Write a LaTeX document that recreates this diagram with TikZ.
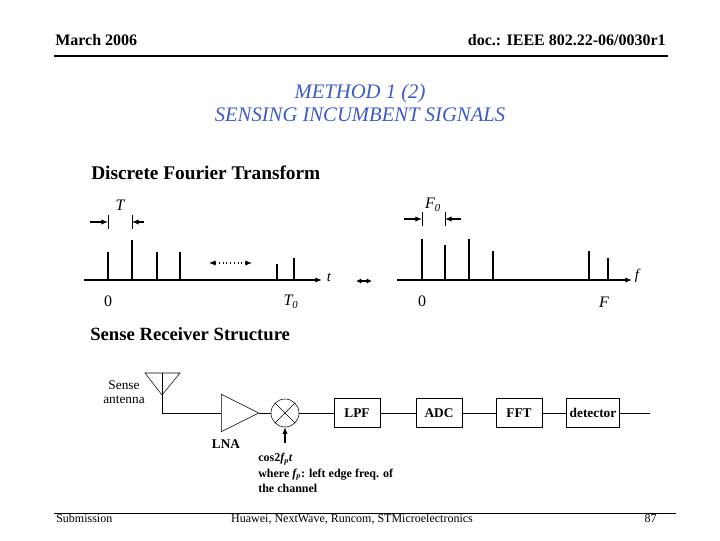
\documentclass[tikz,border=0pt]{standalone}
\usepackage{fontspec}
\setmainfont{Liberation Serif}
\usetikzlibrary{arrows.meta,shapes.geometric}
\definecolor{ttl}{RGB}{60,90,200}
\begin{document}
\begin{tikzpicture}[x=0.75pt,y=-0.75pt,
  lbl/.style={inner sep=0pt,font=\fontsize{11}{12}\selectfont},
  sbox/.style={draw,semithick,minimum width=34.5pt,minimum height=22pt,inner sep=0pt,font=\bfseries\fontsize{10}{11}\selectfont},
  spk/.style={thick},
  ar/.style={-{Latex[length=5pt,width=4pt]},thick},
  conn/.style={semithick}]
\useasboundingbox (0,0) rectangle (720,540);
% header
\node[anchor=base west,inner sep=0pt,font=\bfseries\fontsize{12}{14}\selectfont] (hl) at (55,45) {March 2006};
\node[anchor=base east,inner sep=0pt,font=\bfseries\fontsize{12}{14}\selectfont] (hr) at (666,45) {doc.: IEEE 802.22-06/0030r1};
\coordinate (h1) at (54,56); \coordinate (h2) at (668,56);
\draw[thick] (h1) -- (h2);
\node[text=ttl,font=\itshape\fontsize{15.5}{18}\selectfont,align=center] (title) at (360,103) {METHOD 1 (2)\\[-1pt]SENSING INCUMBENT SIGNALS};
\node[anchor=base west,inner sep=0pt,font=\bfseries\fontsize{14.5}{16}\selectfont] (dft) at (91,179) {Discrete Fourier Transform};
% left axis
\coordinate (la0) at (84,280); \coordinate (la1) at (322,280);
\draw[ar,very thick] (la0) -- (la1);
\node[lbl,font=\itshape\fontsize{11}{12}\selectfont] (t) at (329,277) {t};
\foreach \x/\h [count=\i] in {108/252,132/240,157/252,180/252,277/264,294/258}{
  \coordinate (ls\i) at (\x,280); \coordinate (lt\i) at (\x,\h); \draw[spk] (ls\i) -- (lt\i);}
\node[lbl,font=\fontsize{12}{13}\selectfont] (z1) at (108,301) {0};
\node[lbl,font=\itshape\fontsize{12}{13}\selectfont] (T0) at (291,302) {T\textsubscript{0}};
\coordinate (ta) at (108,215); \coordinate (tb) at (108,229); \draw (ta) -- (tb);
\coordinate (tc) at (132,215); \coordinate (td) at (132,229); \draw (tc) -- (td);
\coordinate (a1) at (90,222); \coordinate (a2) at (108,222); \draw[ar] (a1) -- (a2);
\coordinate (a3) at (144,222); \coordinate (a4) at (132,222); \draw[ar] (a3) -- (a4);
\node[lbl,font=\itshape\fontsize{12}{13}\selectfont] (T) at (120,205) {T};
\coordinate (d1) at (209,263); \coordinate (d2) at (252,263);
\draw[{Latex[length=5pt,width=4pt]}-{Latex[length=5pt,width=4pt]},thick,dotted] (d1) -- (d2);
\coordinate (m1) at (356,281); \coordinate (m2) at (372,281);
\draw[{Latex[length=4pt,width=4pt]}-{Latex[length=4pt,width=4pt]},thick] (m1) -- (m2);
% right axis
\coordinate (ra0) at (397,280); \coordinate (ra1) at (632,280);
\draw[ar,very thick] (ra0) -- (ra1);
\node[lbl,font=\itshape\fontsize{11}{12}\selectfont] (f) at (637,276) {f};
\foreach \x/\h [count=\i] in {422/239,445/245,469/239,493/251,589/251,608/258}{
  \coordinate (rs\i) at (\x,280); \coordinate (rt\i) at (\x,\h); \draw[spk] (rs\i) -- (rt\i);}
\node[lbl,font=\fontsize{12}{13}\selectfont] (z2) at (422,301) {0};
\node[lbl,font=\itshape\fontsize{12}{13}\selectfont] (F) at (604,302) {F};
\coordinate (fa) at (422,212); \coordinate (fb) at (422,226); \draw (fa) -- (fb);
\coordinate (fc) at (445,212); \coordinate (fd) at (445,226); \draw (fc) -- (fd);
\coordinate (b1) at (404,219); \coordinate (b2) at (422,219); \draw[ar] (b1) -- (b2);
\coordinate (b3) at (461,219); \coordinate (b4) at (445,219); \draw[ar] (b3) -- (b4);
\node[lbl,font=\itshape\fontsize{12}{13}\selectfont] (F0) at (433,205) {F\textsubscript{0}};
% receiver
\node[anchor=base west,inner sep=0pt,font=\bfseries\fontsize{14}{16}\selectfont] (srs) at (90,340) {Sense Receiver Structure};
\coordinate (an1) at (145,373); \coordinate (an2) at (180,373); \coordinate (ap) at (162,395);
\draw (an1) -- (ap) -- (an2) -- cycle; \coordinate (anm) at (162,373); \draw (anm) -- (ap);
\node[lbl,align=center,font=\fontsize{10}{11}\selectfont] (sa) at (124,392) {Sense\\antenna};
\coordinate (ac) at (162,413);
\node[draw,isosceles triangle,isosceles triangle stretches,minimum width=28pt,minimum height=28pt,inner sep=0pt] (lna) at (233,413) {};
\draw[conn] (ap) -- (ac) -- (lna.west);
\node[lbl,font=\bfseries\fontsize{10}{11}\selectfont] (lnal) at (226,444) {LNA};
\node[draw,circle,minimum size=21pt,inner sep=0pt] (mix) at (285,413) {};
\draw (mix.north west) -- (mix.south east) (mix.north east) -- (mix.south west);
\draw[conn] (lna.east) -- (mix.west);
\node[sbox] (lpf) at (357,413) {LPF};
\node[sbox] (adc) at (439,413) {ADC};
\node[sbox] (fft) at (519,413) {FFT};
\node[sbox,minimum width=40pt] (det) at (593,413) {detector};
\coordinate (out) at (650,413);
\draw[conn] (mix.east) -- (lpf) (lpf) -- (adc) (adc) -- (fft) (fft) -- (det) (det) -- (out);
\coordinate (lo) at (285,443);
\draw[ar] (lo) -- (mix.south);
\node[anchor=north west,align=left,inner sep=0pt,font=\bfseries\fontsize{9}{11.5}\selectfont] (note) at (258,453)
 {cos2\textit{f\textsubscript{p}t}\\where \textit{f\textsubscript{p}}: left edge freq. of\\the channel};
% footer
\coordinate (f1) at (54,513); \coordinate (f2) at (676,513);
\draw (f1) -- (f2);
\node[anchor=base west,inner sep=0pt,font=\fontsize{9}{10}\selectfont] (sub) at (56,522) {Submission};
\node[anchor=base,inner sep=0pt,font=\fontsize{9}{10}\selectfont] (auth) at (352,522) {Huawei, NextWave, Runcom, STMicroelectronics};
\node[anchor=base east,inner sep=0pt,font=\fontsize{9}{10}\selectfont] (pg) at (657,522) {87};
\end{tikzpicture}
\end{document}
